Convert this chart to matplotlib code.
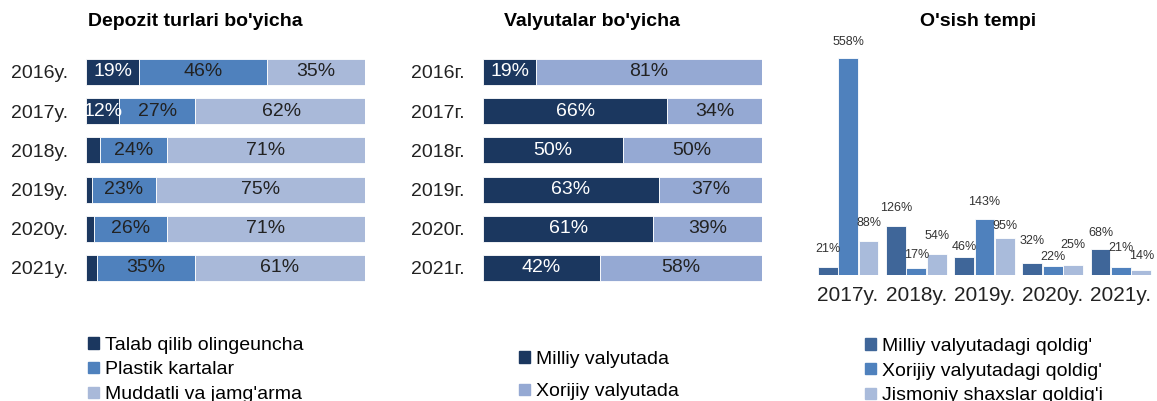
import matplotlib.pyplot as plt
from matplotlib.patches import Patch

plt.rcParams["font.family"] = ["Liberation Sans", "DejaVu Sans"]

# Depozit turlari bo'yicha (ulush, %)
years_dep = ["2016y.", "2017y.", "2018y.", "2019y.", "2020y.", "2021y."]
talab = [19, 12, 5, 2, 3, 4]
plastik = [46, 27, 24, 23, 26, 35]
muddatli = [35, 62, 71, 75, 71, 61]

# Valyutalar bo'yicha (ulush, %)
years_val = ["2016г.", "2017г.", "2018г.", "2019г.", "2020г.", "2021г."]
milliy = [19, 66, 50, 63, 61, 42]
xorijiy = [81, 34, 50, 37, 39, 58]

# O'sish tempi (%)
years_g = ["2017y.", "2018y.", "2019y.", "2020y.", "2021y."]
g_milliy = [21, 126, 46, 32, 68]
g_xorijiy = [558, 17, 143, 22, 21]
g_jismoniy = [88, 54, 95, 25, 14]

# label lift above bar top (pixels), as the labels sit in the original
lift_milliy = [18, 18, 10, 22, 16]
lift_xorijiy = [16, 13, 17, 9, 19]
lift_jismoniy = [18, 18, 12, 20, 14]

NAVY = "#1B375F"
MID = "#4F81BD"
LIGHT1 = "#A9B9D9"
LIGHT2 = "#95A9D3"
STEEL = "#3F6699"
LIGHT3 = "#A9BBDB"
TXT = "#222222"

W, H = 1157, 401
fig = plt.figure(figsize=(W / 100, H / 100), dpi=100)


def px_axes(x0, x1, ytop, ybot):
    return fig.add_axes([x0 / W, 1 - ybot / H, (x1 - x0) / W, (ybot - ytop) / H])


def stacked(ax, labels, series, colors, txtcolors):
    rows = range(len(labels))
    left = [0] * len(labels)
    for vals, c, tc in zip(series, colors, txtcolors):
        bars = ax.barh(rows, vals, left=left, height=0.66, color=c,
                       edgecolor="white", linewidth=0.6)
        for b, v in zip(bars, vals):
            if v >= 10:
                ax.text(b.get_x() + b.get_width() / 2, b.get_y() + b.get_height() / 2,
                        f"{v}%", ha="center", va="center", fontsize=14, color=tc)
        left = [l + v for l, v in zip(left, vals)]
    ax.set_xlim(0, 100)
    ax.set_ylim(len(labels) - 0.5, -0.5)
    ax.set_yticks(list(rows))
    ax.set_yticklabels(labels, fontsize=14, color=TXT)
    ax.tick_params(axis="y", length=0, pad=13)
    ax.set_xticks([])
    for s in ax.spines.values():
        s.set_visible(False)


def legend(handles, labels, x, y, spacing):
    fig.legend(handles=handles, labels=labels, loc="upper left",
               bbox_to_anchor=(x / W, 1 - y / H), frameon=False,
               prop={"size": 14}, handlelength=0.6, handleheight=0.55,
               handletextpad=0.3, labelspacing=spacing, borderpad=0)


# ── panel 1 ──
ax1 = px_axes(86, 365, 52.4, 287.6)
stacked(ax1, years_dep, [talab, plastik, muddatli], [NAVY, MID, LIGHT1],
        ["white", TXT, TXT])
fig.text(195 / W, 1 - 21 / H, "Depozit turlari bo'yicha", ha="center", va="center",
         fontsize=14, fontweight="bold")
legend([Patch(color=NAVY), Patch(color=MID), Patch(color=LIGHT1)],
       ["Talab qilib olingeuncha", "Plastik kartalar", "Muddatli va jamg'arma"],
       78, 327, 0.4)

# ── panel 2 ──
ax2 = px_axes(483, 762, 52.4, 287.6)
stacked(ax2, years_val, [milliy, xorijiy], [NAVY, LIGHT2], ["white", TXT])
fig.text(592 / W, 1 - 21 / H, "Valyutalar bo'yicha", ha="center", va="center",
         fontsize=14, fontweight="bold")
legend([Patch(color=NAVY), Patch(color=LIGHT2)],
       ["Milliy valyutada", "Xorijiy valyutada"], 509, 341, 0.8)

# ── panel 3 ──
ax3 = px_axes(814, 1155, 41.6, 275)
x = range(len(years_g))
groups = [(-0.3, g_milliy, lift_milliy, STEEL),
          (0, g_xorijiy, lift_xorijiy, MID),
          (0.3, g_jismoniy, lift_jismoniy, LIGHT3)]
for off, vals, lifts, c in groups:
    bars = ax3.bar([i + off for i in x], vals, width=0.29, color=c,
                   edgecolor="white", linewidth=0.6)
    for b, v, dy in zip(bars, vals, lifts):
        ax3.annotate(f"{v}%", (b.get_x() + b.get_width() / 2, v), xytext=(0, dy * 0.72),
                     textcoords="offset points", ha="center", va="center",
                     fontsize=9, color="#333333", annotation_clip=False)
ax3.set_xlim(-0.5, 4.5)
ax3.set_ylim(0, 600)
ax3.set_xticks(list(x))
ax3.set_xticklabels(years_g, fontsize=15, color=TXT)
ax3.tick_params(axis="x", length=0, pad=8)
ax3.set_yticks([])
for s in ax3.spines.values():
    s.set_visible(False)
fig.text(978 / W, 1 - 21 / H, "O'sish tempi", ha="center", va="center",
         fontsize=14, fontweight="bold")
legend([Patch(color=STEEL), Patch(color=MID), Patch(color=LIGHT3)],
       ["Milliy valyutadagi qoldig'", "Xorijiy valyutadagi qoldig'",
        "Jismoniy shaxslar qoldig'i"], 855, 328, 0.4)

fig.savefig("out.png", dpi=100)
